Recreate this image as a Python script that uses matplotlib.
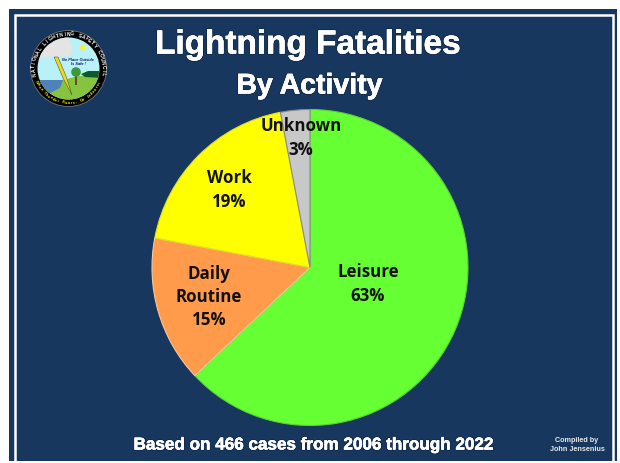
import numpy as np
import matplotlib
matplotlib.use('Agg')
import matplotlib.pyplot as plt
import matplotlib.patheffects as pe
from matplotlib.patches import Circle, Rectangle, Polygon

# chart data
labels = ['Leisure', 'Daily\nRoutine', 'Work', 'Unknown']
values = [63, 15, 19, 3]
colors = ['#66ff33', '#ff9b4a', '#ffff00', '#c8c8c8']
edge_colors = ['#5fd030', '#f5c9a0', '#e0e020', '#8a8a8a']

title = 'Lightning Fatalities'
subtitle = 'By Activity'
footer = 'Based on 466 cases from 2006 through 2022'
credit = 'Compiled by\nJohn Jensenius'
navy = '#17375e'

plt.rcParams['font.family'] = ['Liberation Sans', 'DejaVu Sans']
fig = plt.figure(figsize=(6.2, 4.63), dpi=100, facecolor='white')

# background in pixel coords
bg = fig.add_axes([0, 0, 1, 1])
bg.set_xlim(0, 620)
bg.set_ylim(463, 0)
bg.axis('off')
bg.add_patch(Rectangle((9, 9), 608, 452, fc=navy, ec='none'))
bg.add_patch(Rectangle((14.5, 14.5), 598.5, 460, fc=navy, ec='white', lw=1.8))
bg.add_patch(Rectangle((0, 461), 620, 2, fc='white', ec='none', zorder=2))

# pie
W, H = 620, 463
cx, cy, r = 310, 267.5, 158
pie_ax = fig.add_axes([(cx - r) / W, 1 - (cy + r) / H, 2 * r / W, 2 * r / H])
wedges, _ = pie_ax.pie(values, colors=colors, startangle=90, counterclock=False,
                       radius=1, wedgeprops={'linewidth': 0.8})
for w, ec in zip(wedges, edge_colors):
    w.set_edgecolor(ec)
pie_ax.set_xlim(-1, 1)
pie_ax.set_ylim(-1, 1)

# pie labels
lab_style = dict(ha='center', va='center', fontsize=12.2, fontweight='bold',
                 family=['Open Sans', 'DejaVu Sans'], color='#111111', linespacing=1.38)
lab_pos = [(368, 284), (209, 297), (229, 190), (301, 138)]
for lab, v, pos in zip(labels, values, lab_pos):
    bg_txt = fig.text(pos[0] / W, 1 - pos[1] / H, '%s\n%d%%' % (lab, v), **lab_style)
    bg_txt.set_zorder(5)

# titles, white with a soft dark shadow
t1 = fig.text(308.5 / W, 1 - 45 / H, title, ha='center', va='center', fontsize=24,
              fontweight='bold', color='white')
t2 = fig.text(309.5 / W, 1 - 86.5 / H, subtitle, ha='center', va='center', fontsize=20.5,
              fontweight='bold', color='white')
t3 = fig.text(314 / W, 1 - 445 / H, footer, ha='center', va='center', fontsize=12.3,
              fontweight='bold', color='white')
fig.text(577 / W, 1 - 445 / H, credit, ha='center', va='center', fontsize=5.2,
         fontweight='bold', color='#e8e8e8', linespacing=1.4)
for t in (t1, t2, t3):
    t.set_path_effects([pe.withStroke(linewidth=1.6, foreground='#0a1a30', alpha=0.5),
                        pe.Stroke(linewidth=0.4, foreground='white'),
                        pe.Normal()])

# council logo
lx, ly = 68.5, 68.5
clip = Circle((lx, ly), 31, transform=bg.transData)
bg.add_patch(Circle((lx, ly), 38, fc='black', ec='#777777', lw=0.6, zorder=3))
bg.add_patch(Circle((lx, ly), 31, fc='#b8f2f8', ec='none', zorder=3))
parts = [
    Polygon([(36, 80), (63, 80), (78, 76), (102, 75), (102, 102), (36, 102)], fc='#86c440', ec='none', zorder=3),
    Polygon([(36, 80), (63, 80), (60, 88), (50, 93), (36, 95)], fc='#4f81bd', ec='none', zorder=3),
    Polygon([(36, 30), (66, 30), (73, 50), (70, 56), (36, 58)], fc='#e4e4e4', ec='none', zorder=3),
    Polygon([(81, 74), (88, 71), (102, 71), (102, 78), (85, 77)], fc='#0f5a2a', ec='none', zorder=3),
    Circle((83, 47.5), 3, fc='#ffee33', ec='none', zorder=3),
    Rectangle((75, 76), 1.5, 9, fc='#6b4a20', ec='none', zorder=3),
    Circle((76, 72), 4.8, fc='#3a9a3a', ec='none', zorder=3),
    Polygon([(54, 57), (58, 57), (66, 76), (72, 95), (63, 78)], fc='#e8d820', ec='#333333', lw=0.3, zorder=3),
]
for p in parts:
    bg.add_patch(p)
    p.set_clip_path(clip)
bg.text(78, 62, 'No Place Outside\nIs Safe !', ha='center', va='center', fontsize=2.8,
        fontweight='bold', style='italic', color='#101060', zorder=4)


def ring_text(text, radius, mid_deg, step, color, size, flip=False):
    # one rotated glyph at a time round the logo
    n = len(text)
    for i, ch in enumerate(text):
        off = (i - (n - 1) / 2) * step
        a = mid_deg + off if flip else mid_deg - off
        x = lx + radius * np.cos(np.radians(a))
        y = ly - radius * np.sin(np.radians(a))
        rot = a + 90 if flip else a - 90
        bg.text(x, y, ch, ha='center', va='center', rotation=rot, fontsize=size,
                fontweight='bold', color=color, zorder=4)


ring_text('NATIONAL LIGHTNING SAFETY COUNCIL', 34.5, 90, 6.2, 'white', 3.6)
ring_text('When Thunder Roars, Go Indoors!', 34.5, 270, 4.4, '#ffee00', 2.8, flip=True)

fig.savefig('out.png', dpi=100, facecolor='white')
